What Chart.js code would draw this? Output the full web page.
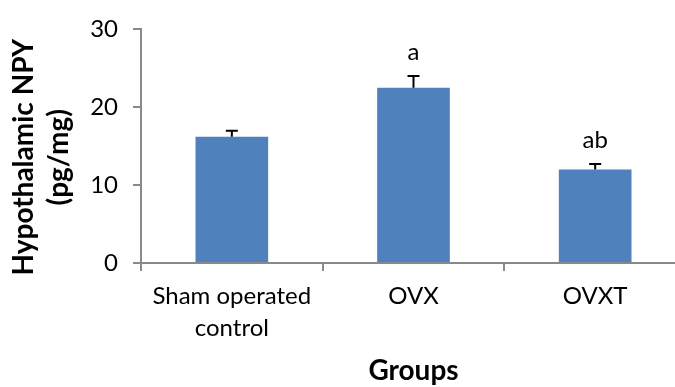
<!DOCTYPE html>
<html>
<head>
<meta charset="utf-8">
<title>Hypothalamic NPY by group</title>
<script src="https://cdn.jsdelivr.net/npm/chart.js@4/dist/chart.umd.min.js"></script>
<style>
  html, body { margin: 0; padding: 0; background: #ffffff; overflow: hidden; }
  #wrap { width: 700px; height: 387px; }
</style>
</head>
<body>
<div id="wrap"><canvas id="c" width="700" height="387"></canvas></div>
<script>
// Group labels (multi-line where the label wraps)
const groups = [['Sham operated', 'control'], 'OVX', 'OVXT'];
// Mean hypothalamic NPY (pg/mg) per group
const npyMeans = [16.2, 22.5, 12.0];
// Upper error (SEM) per group
const npyErrors = [0.8, 1.5, 0.7];
// Significance letters shown over each bar
const sigLetters = ['', 'a', 'ab'];
// Y-axis ticks
const yTicks = [0, 10, 20, 30];

const AXIS_GRAY = '#898989';
const BAR_BLUE = '#4F81BD';
const FONT = 'Lato, "Open Sans", sans-serif';

// Error bars, significance letters and axis titles
const overlay = {
  id: 'overlay',
  afterDatasetsDraw(chart) {
    const ctx = chart.ctx;
    const meta = chart.getDatasetMeta(0);
    const y = chart.scales.y;
    const area = chart.chartArea;
    ctx.save();
    meta.data.forEach((bar, i) => {
      const top = y.getPixelForValue(npyMeans[i] + npyErrors[i]);
      const base = y.getPixelForValue(npyMeans[i]);
      const cx = bar.x;
      ctx.strokeStyle = '#000';
      ctx.lineWidth = 2;
      ctx.beginPath();
      ctx.moveTo(cx, base);
      ctx.lineTo(cx, top);
      ctx.moveTo(cx - 6, top);
      ctx.lineTo(cx + 6, top);
      ctx.stroke();
      if (sigLetters[i]) {
        ctx.fillStyle = '#000';
        ctx.font = '24px ' + FONT;
        ctx.textAlign = 'center';
        ctx.textBaseline = 'alphabetic';
        ctx.fillText(sigLetters[i], cx, top - 16);
      }
    });

    // Y-axis title, two rotated lines
    ctx.fillStyle = '#000';
    ctx.font = 'bold 28px ' + FONT;
    ctx.textAlign = 'center';
    ctx.textBaseline = 'alphabetic';
    const midY = (area.top + area.bottom) / 2 + 11;
    ['Hypothalamic NPY', '(pg/mg)'].forEach((line, k) => {
      ctx.save();
      ctx.translate(33 + k * 35, midY);
      ctx.rotate(-Math.PI / 2);
      ctx.fillText(line, 0, 0);
      ctx.restore();
    });

    // X-axis title
    ctx.fillText('Groups', (area.left + area.right) / 2, 380);
    ctx.restore();
  }
};

new Chart(document.getElementById('c'), {
  type: 'bar',
  data: {
    labels: groups,
    datasets: [{
      data: npyMeans,
      backgroundColor: BAR_BLUE,
      borderWidth: 0,
      barPercentage: 0.4,
      categoryPercentage: 1.0
    }]
  },
  options: {
    responsive: false,
    animation: false,
    devicePixelRatio: 1,
    layout: { padding: { top: 24, right: 14, left: 0, bottom: 0 } },
    plugins: {
      legend: { display: false },
      tooltip: { enabled: false }
    },
    scales: {
      x: {
        offset: true,
        grid: {
          offset: true,
          drawOnChartArea: false,
          drawTicks: true,
          tickLength: 8,
          color: AXIS_GRAY,
          lineWidth: 2
        },
        border: { display: true, color: AXIS_GRAY, width: 2 },
        ticks: {
          color: '#000',
          padding: 10,
          maxRotation: 0,
          autoSkip: false,
          font: { family: FONT, size: 24, lineHeight: 1.3 }
        },
        afterFit(scale) { scale.height = 124; }
      },
      y: {
        min: 0,
        max: 30,
        afterBuildTicks(scale) { scale.ticks = yTicks.map(v => ({ value: v })); },
        grid: {
          drawOnChartArea: false,
          drawTicks: true,
          tickLength: 8,
          color: AXIS_GRAY,
          lineWidth: 2
        },
        border: { display: true, color: AXIS_GRAY, width: 2 },
        ticks: {
          color: '#000',
          padding: 15,
          font: { family: FONT, size: 24 }
        },
        afterFit(scale) { scale.width = 141; }
      }
    }
  },
  plugins: [overlay]
});
</script>
</body>
</html>
